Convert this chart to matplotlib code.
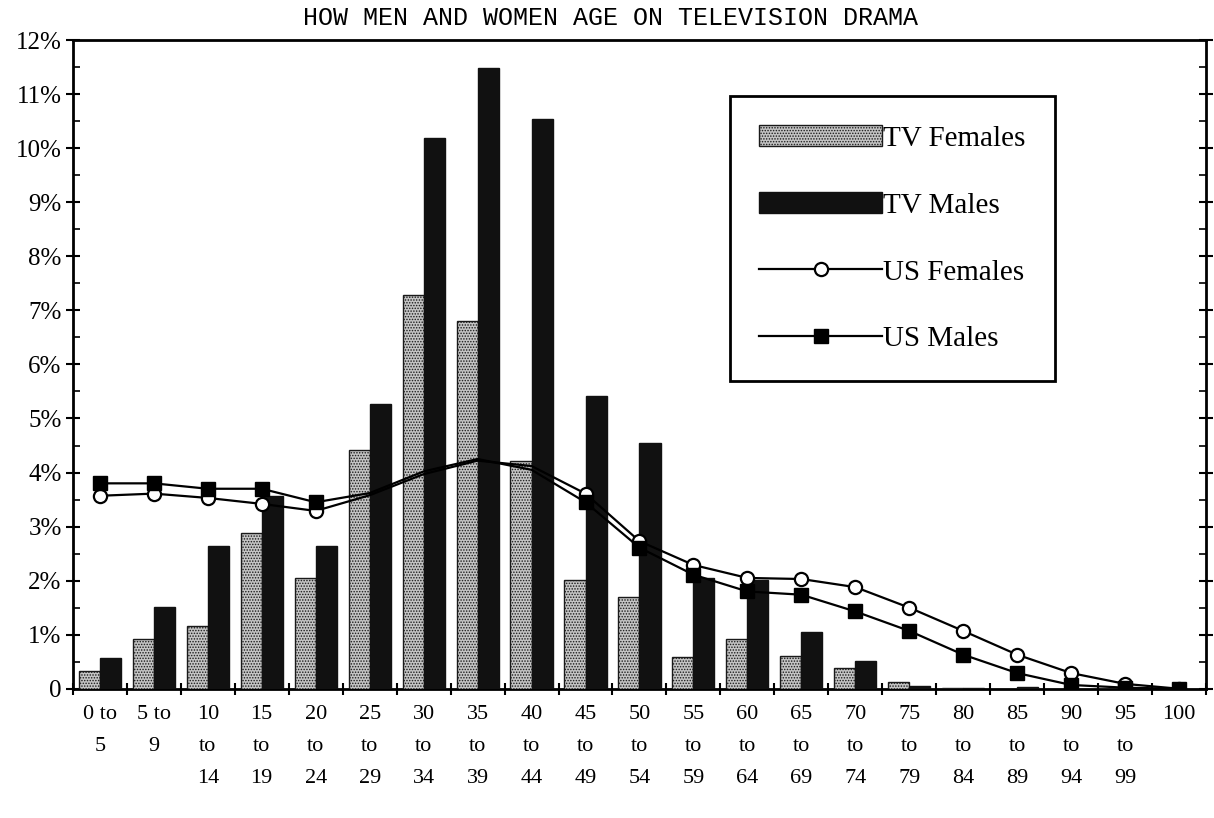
import matplotlib
matplotlib.use("Agg")
import matplotlib.pyplot as plt
import numpy as np
from matplotlib.ticker import MultipleLocator, FuncFormatter

# age groups (x axis)
age_labels = ["0 to\n5", "5 to\n9", "10\nto\n14", "15\nto\n19", "20\nto\n24",
              "25\nto\n29", "30\nto\n34", "35\nto\n39", "40\nto\n44", "45\nto\n49",
              "50\nto\n54", "55\nto\n59", "60\nto\n64", "65\nto\n69", "70\nto\n74",
              "75\nto\n79", "80\nto\n84", "85\nto\n89", "90\nto\n94", "95\nto\n99",
              "100"]

# percent of population in each age group
tv_females = [0.33, 0.92, 1.16, 2.88, 2.05, 4.41, 7.29, 6.81, 4.21, 2.01,
              1.70, 0.58, 0.92, 0.60, 0.39, 0.13, 0.02, 0.0, 0.0, 0.0, 0.0]
tv_males = [0.57, 1.52, 2.65, 3.57, 2.65, 5.27, 10.19, 11.48, 10.54, 5.42,
            4.55, 2.05, 2.01, 1.05, 0.52, 0.05, 0.02, 0.03, 0.0, 0.0, 0.0]
us_females = [3.57, 3.61, 3.53, 3.42, 3.29, 3.58, 3.97, 4.22, 4.12, 3.61,
              2.73, 2.29, 2.05, 2.03, 1.88, 1.50, 1.07, 0.63, 0.29, 0.09, 0.0]
us_males = [3.80, 3.80, 3.70, 3.70, 3.45, 3.62, 4.02, 4.25, 4.05, 3.45,
            2.61, 2.11, 1.80, 1.74, 1.43, 1.07, 0.63, 0.29, 0.07, 0.02, 0.0]

title = "HOW MEN AND WOMEN AGE ON TELEVISION DRAMA"

plt.rcParams["font.family"] = "Liberation Serif"
plt.rcParams["hatch.linewidth"] = 0.7

fig = plt.figure(figsize=(12.14, 8.18), dpi=100)
ax = fig.add_axes([0.060, 0.158, 0.9335, 0.793])

n = len(age_labels)
x = np.arange(n) + 0.5
w = 0.39
marked = [i for i in range(n) if i not in (5, 6, 7, 8)]

# US population lines sit on top of the bars
ax.plot(x, us_females, color="black", lw=1.6, marker="o", ms=9.5,
        mfc="white", mec="black", mew=1.6, zorder=4, markevery=marked,
        label="US Females")
ax.plot(x, us_males, color="black", lw=1.6, marker="s", ms=10,
        mfc="black", mec="black", zorder=4, markevery=marked,
        label="US Males")

bf = ax.bar(x - w / 2, tv_females, w, color="#c4c4c4", edgecolor="#1a1a1a",
            hatch="......", lw=1.0, zorder=3, label="TV Females")
bm = ax.bar(x + w / 2, tv_males, w, color="#111111", edgecolor="#111111",
            lw=1.0, zorder=3, label="TV Males")

ax.set_xlim(0, n)
ax.set_ylim(0, 12)

# y axis: every 1% with small in-ticks at the halves
ax.yaxis.set_major_locator(MultipleLocator(1))
ax.yaxis.set_minor_locator(MultipleLocator(0.5))
ax.yaxis.set_major_formatter(FuncFormatter(lambda v, _: "0" if v == 0 else "{:g}%".format(v)))
ax.tick_params(axis="y", which="major", direction="inout", length=10, width=1.5,
               labelsize=18, pad=3, right=True)
ax.tick_params(axis="y", which="minor", direction="in", length=5, width=1.2, right=True)

# x axis: tick marks on group boundaries, labels in the middle
ax.set_xticks(x)
ax.set_xticklabels(age_labels)
ax.set_xticks(np.arange(n + 1), minor=True)
ax.tick_params(axis="x", which="major", length=0, labelsize=16, pad=12)
ax.tick_params(axis="x", which="minor", direction="inout", length=9, width=1.5)
for lbl in ax.get_xticklabels():
    lbl.set_linespacing(1.92)

for sp in ax.spines.values():
    sp.set_linewidth(2)
    sp.set_color("black")

leg = ax.legend(handles=[bf, bm, ax.lines[0], ax.lines[1]],
                labels=["TV Females", "TV Males", "US Females", "US Males"],
                loc="upper left", bbox_to_anchor=(0.580, 0.914),
                fontsize=21, handlelength=4.2, handleheight=0.75,
                labelspacing=1.37, handletextpad=0.05, borderpad=1.0,
                borderaxespad=0, fancybox=False, framealpha=1)
leg.get_frame().set_edgecolor("black")
leg.get_frame().set_linewidth(2)
leg.set_zorder(6)

fig.text(0.503, 0.978, title, ha="center", va="center",
         family="Liberation Mono", fontsize=18)

fig.savefig("out.png", dpi=100, facecolor="white")
